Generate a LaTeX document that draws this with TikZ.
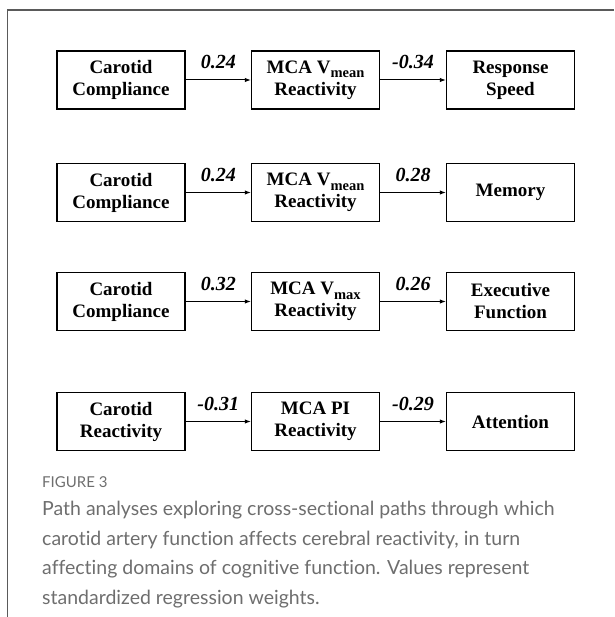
\documentclass[tikz,border=0pt]{standalone}
\usepackage{fontspec}
\setmainfont{Liberation Serif}
\newfontfamily\capfont[Ligatures=NoCommon]{Lato}
\usetikzlibrary{arrows.meta}
\definecolor{framegray}{HTML}{5A5A5A}
\definecolor{capgray}{HTML}{6E6E6E}
\tikzset{
  pathbox/.style={draw=black, line width=1.5pt, minimum width=128pt, minimum height=58pt,
    inner sep=0pt, align=center, font=\fontsize{19}{22}\selectfont\bfseries},
  arr/.style={line width=1pt, -{Latex[length=6pt,width=4.5pt]}},
  weight/.style={midway, yshift=18pt, font=\fontsize{20}{22}\selectfont\bfseries\itshape},
}
\newcommand{\vsub}[1]{\raisebox{-4.5pt}{\fontsize{14.5}{16}\selectfont #1}}
\begin{document}
\begin{tikzpicture}[x=1pt, y=-1pt]
\useasboundingbox (0,0) rectangle (614,617);
\draw[framegray, line width=1.3pt] (7.5,617) -- (7.5,10) -- (614,10);

% row 1
\node[pathbox] (a1) at (121,80) {Carotid\\Compliance};
\node[pathbox] (b1) at (315.5,80) {MCA V\vsub{mean}\\Reactivity};
\node[pathbox] (c1) at (510.5,80) {Response\\Speed};
\draw[arr] (a1.east) -- node[weight] {0.24} (b1.west);
\draw[arr] (b1.east) -- node[weight] {-0.34} (c1.west);

% row 2
\node[pathbox] (a2) at (121,192.5) {Carotid\\Compliance};
\node[pathbox] (b2) at (315.5,192.5) {MCA V\vsub{mean}\\Reactivity};
\node[pathbox] (c2) at (510.5,192.5) {Memory};
\draw[arr] (a2.east) -- node[weight] {0.24} (b2.west);
\draw[arr] (b2.east) -- node[weight] {0.28} (c2.west);

% row 3
\node[pathbox] (a3) at (121,301.5) {Carotid\\Compliance};
\node[pathbox] (b3) at (315.5,301.5) {MCA V\vsub{max}\\Reactivity};
\node[pathbox] (c3) at (510.5,301.5) {Executive\\Function};
\draw[arr] (a3.east) -- node[weight] {0.32} (b3.west);
\draw[arr] (b3.east) -- node[weight] {0.26} (c3.west);

% row 4
\node[pathbox] (a4) at (121,421.5) {Carotid\\Reactivity};
\node[pathbox] (b4) at (315.5,421.5) {MCA PI\\Reactivity};
\node[pathbox] (c4) at (510.5,421.5) {Attention};
\draw[arr] (a4.east) -- node[weight] {-0.31} (b4.west);
\draw[arr] (b4.east) -- node[weight] {-0.29} (c4.west);

% caption
\node[anchor=base west, inner sep=0pt, text=capgray, font=\capfont\fontsize{15}{18}\selectfont] (fig) at (42,487) {FIGURE 3};
\node[anchor=base west, inner sep=0pt, text=capgray, align=left,
  font=\capfont\fontsize{19.5}{29.4}\selectfont] (cap) at (42,604)
  {Path analyses exploring cross-sectional paths through which\\
   carotid artery function affects cerebral reactivity, in turn\\
   affecting domains of cognitive function. Values represent\\
   standardized regression weights.};
\end{tikzpicture}
\end{document}
